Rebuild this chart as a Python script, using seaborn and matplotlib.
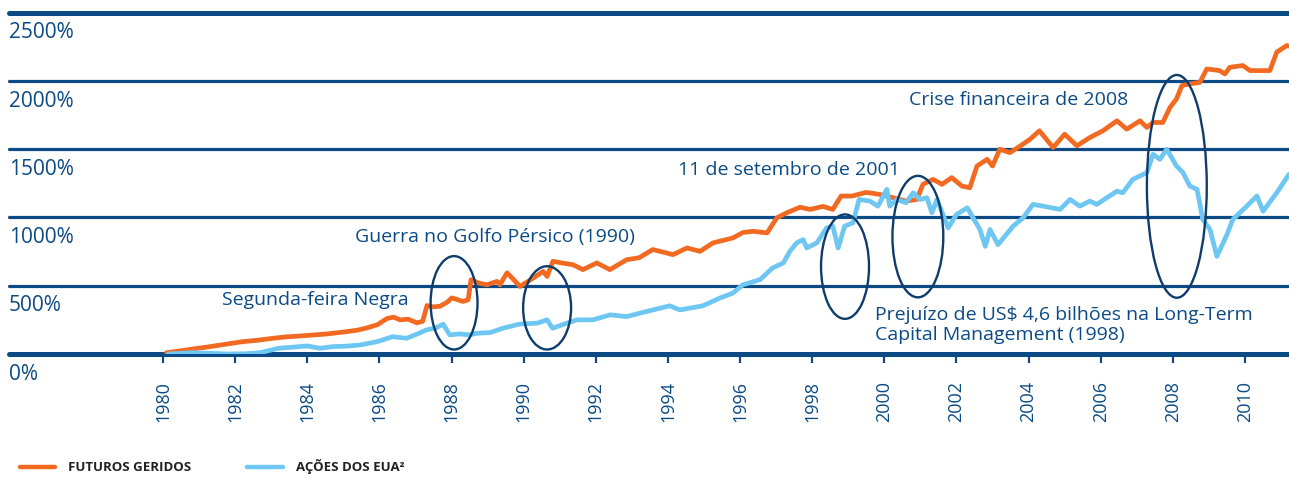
import matplotlib
matplotlib.use("Agg")
import matplotlib.pyplot as plt
import matplotlib.transforms as mtransforms
from matplotlib.patches import Ellipse
from matplotlib.lines import Line2D
import seaborn as sns
import pandas as pd

# data (year, cumulative return in %)
fut_years = [1980.10, 1980.45, 1980.83, 1981.20, 1981.60, 1982.20, 1982.60, 1983.05, 1983.40, 1983.80,
             1984.20, 1984.55, 1985.10, 1985.40, 1985.65, 1985.95, 1986.21, 1986.40, 1986.57, 1986.80,
             1987.04, 1987.20, 1987.32, 1987.49, 1987.68, 1987.87, 1988.01, 1988.32, 1988.46, 1988.54,
             1988.75, 1988.98, 1989.26, 1989.34, 1989.54, 1989.90, 1990.26, 1990.54, 1990.65, 1990.81,
             1991.10, 1991.37, 1991.64, 1992.03, 1992.39, 1992.86, 1993.20, 1993.58, 1994.14, 1994.53,
             1994.89, 1995.25, 1995.80, 1996.08, 1996.36, 1996.75, 1997.02, 1997.30, 1997.66, 1997.94,
             1998.30, 1998.57, 1998.80, 1999.10, 1999.50, 1999.87, 2000.24, 2000.60, 2000.90, 2001.07,
             2001.35, 2001.60, 2001.87, 2002.15, 2002.37, 2002.57, 2002.85, 2003.00, 2003.20, 2003.48,
             2003.75, 2004.04, 2004.30, 2004.68, 2005.00, 2005.34, 2005.70, 2006.06, 2006.45, 2006.72,
             2007.09, 2007.28, 2007.45, 2007.72, 2007.92, 2008.10, 2008.25, 2008.47, 2008.75, 2008.94,
             2009.30, 2009.44, 2009.58, 2009.94, 2010.14, 2010.50, 2010.69, 2010.88, 2011.16, 2011.22]
fut_vals = [10, 22, 37, 50, 66, 90, 100, 115, 125, 132,
            140, 147, 164, 175, 191, 215, 260, 270, 250, 255,
            228, 240, 355, 345, 350, 378, 411, 385, 397, 544,
            520, 507, 532, 507, 595, 495, 556, 605, 568, 679,
            665, 654, 618, 667, 618, 691, 705, 765, 728, 777,
            752, 814, 850, 890, 899, 887, 998, 1035, 1075, 1059,
            1081, 1059, 1157, 1157, 1184, 1169, 1145, 1120, 1132, 1243,
            1279, 1243, 1292, 1230, 1218, 1377, 1426, 1377, 1500, 1475,
            1520, 1573, 1635, 1512, 1610, 1525, 1586, 1635, 1708, 1647,
            1708, 1659, 1696, 1696, 1806, 1868, 1966, 1978, 1990, 2088,
            2076, 2051, 2100, 2113, 2076, 2076, 2076, 2211, 2260, 2255]

stk_years = [1980.15, 1980.50, 1980.83, 1981.30, 1981.80, 1982.30, 1982.70, 1983.20, 1983.60, 1984.00,
             1984.35, 1984.70, 1985.10, 1985.46, 1985.93, 1986.37, 1986.75, 1987.10, 1987.30, 1987.55,
             1987.77, 1987.95, 1988.23, 1988.50, 1988.70, 1989.07, 1989.43, 1989.90, 1990.37, 1990.65,
             1990.80, 1991.20, 1991.48, 1991.92, 1992.40, 1992.85, 1993.40, 1994.05, 1994.33, 1994.97,
             1995.44, 1995.80, 1996.08, 1996.55, 1996.90, 1997.20, 1997.38, 1997.57, 1997.75, 1997.85,
             1998.13, 1998.40, 1998.57, 1998.72, 1998.90, 1999.13, 1999.30, 1999.60, 1999.82, 2000.07,
             2000.15, 2000.35, 2000.60, 2000.80, 2000.99, 2001.18, 2001.32, 2001.46, 2001.77, 2002.00,
             2002.30, 2002.65, 2002.80, 2002.93, 2003.15, 2003.57, 2003.85, 2004.12, 2004.40, 2004.87,
             2005.15, 2005.42, 2005.70, 2005.89, 2006.20, 2006.45, 2006.61, 2006.89, 2007.28, 2007.45,
             2007.64, 2007.83, 2008.10, 2008.28, 2008.47, 2008.67, 2008.83, 2009.03, 2009.22, 2009.50,
             2009.66, 2010.05, 2010.33, 2010.50, 2010.88, 2011.22]
stk_vals = [0, 5, 10, 5, 0, 2, 10, 42, 50, 59,
            42, 54, 58, 66, 90, 127, 115, 152, 176, 190,
            218, 140, 147, 140, 152, 157, 189, 220, 226, 250,
            189, 226, 250, 250, 287, 274, 311, 353, 323, 353,
            410, 446, 507, 544, 630, 667, 752, 814, 838, 777,
            814, 924, 936, 777, 936, 961, 1132, 1120, 1083, 1206,
            1083, 1132, 1108, 1181, 1132, 1145, 1035, 1132, 924, 1022,
            1071, 912, 789, 912, 801, 936, 998, 1096, 1083, 1059,
            1132, 1083, 1120, 1096, 1150, 1193, 1181, 1279, 1329, 1463,
            1426, 1500, 1377, 1329, 1230, 1206, 985, 912, 715, 875,
            985, 1083, 1157, 1046, 1181, 1316]

series_names = ["FUTUROS GERIDOS", "AÇÕES DOS EUA²"]
y_ticks = [0, 500, 1000, 1500, 2000, 2500]
x_ticks = list(range(1980, 2011, 2))

# events: (label, text x, text y) and circled regions (x, y, width, height)
events = [
    ("Segunda-feira Negra", 1981.64, 397),
    ("Guerra no Golfo Pérsico (1990)", 1985.32, 860),
    ("11 de setembro de 2001", 1994.28, 1346),
    ("Crise financeira de 2008", 2000.68, 1860),
    ("Prejuízo de US$ 4,6 bilhões na Long-Term\nCapital Management (1998)", 1999.74, 213),
]
circles = [
    (1988.07, 375, 1.30, 684),
    (1990.65, 338, 1.33, 610),
    (1998.91, 640, 1.33, 765),
    (2000.93, 860, 1.41, 890),
    (2008.11, 1228, 1.66, 1632),
]

navy = "#0b4a85"
dark_navy = "#0f3d6b"
orange = "#f26a21"
blue = "#6dc7f2"

df = pd.concat([
    pd.DataFrame({"year": fut_years, "value": fut_vals, "serie": series_names[0]}),
    pd.DataFrame({"year": stk_years, "value": stk_vals, "serie": series_names[1]}),
])

sns.set_style("white")
plt.rcParams["font.family"] = ["Open Sans", "DejaVu Sans"]

fig = plt.figure(figsize=(12.89, 4.78), dpi=100)
ax = fig.add_axes([9 / 1289, 124 / 478, 1280 / 1289, 341.3 / 478])

for v in y_ticks:
    lw = 3.6 if v in (0, 2500) else 2.3
    ax.axhline(v, color=navy, lw=lw, zorder=1, clip_on=False)

sns.lineplot(data=df, x="year", y="value", hue="serie",
             palette=[orange, blue], linewidth=3.4, ax=ax, legend=False, zorder=3)

for cx, cy, w, h in circles:
    ax.add_patch(Ellipse((cx, cy), w, h, fill=False, edgecolor=dark_navy, lw=1.7, zorder=4))

for txt, tx, ty in events:
    ax.text(tx, ty, txt, color=navy, fontsize=14, ha="left", va="center",
            linespacing=1.2, zorder=5)

ax.set_xlim(1975.73, 2011.22)
ax.set_ylim(0, 2500)
for s in ax.spines.values():
    s.set_visible(False)

ax.set_xticks(x_ticks)
ax.set_xticklabels([str(y) for y in x_ticks], rotation=90, fontsize=13, color=navy)
ax.tick_params(axis="x", direction="out", length=6.5, width=1.6, color=navy, pad=13, bottom=True)
ax.set_yticks([])
ax.set_xlabel("")
ax.set_ylabel("")

trans = mtransforms.blended_transform_factory(ax.transAxes, ax.transData)
for v in y_ticks:
    ax.annotate(f"{v}%", xy=(0, v), xycoords=trans, xytext=(0, -14.5),
                textcoords="offset points", ha="left", va="center",
                fontsize=15, color=navy, annotation_clip=False)

handles = [Line2D([], [], color=orange, lw=3.2, solid_capstyle="round"),
           Line2D([], [], color=blue, lw=3.2, solid_capstyle="round")]
leg = fig.legend(handles, series_names, loc="lower left", bbox_to_anchor=(0.006, -0.017),
                 ncol=2, frameon=False, handlelength=2.7, handletextpad=1.0,
                 columnspacing=4.2, prop={"size": 9.5, "weight": "bold"})
for t in leg.get_texts():
    t.set_color("#222222")

fig.savefig("out.png", dpi=100)
